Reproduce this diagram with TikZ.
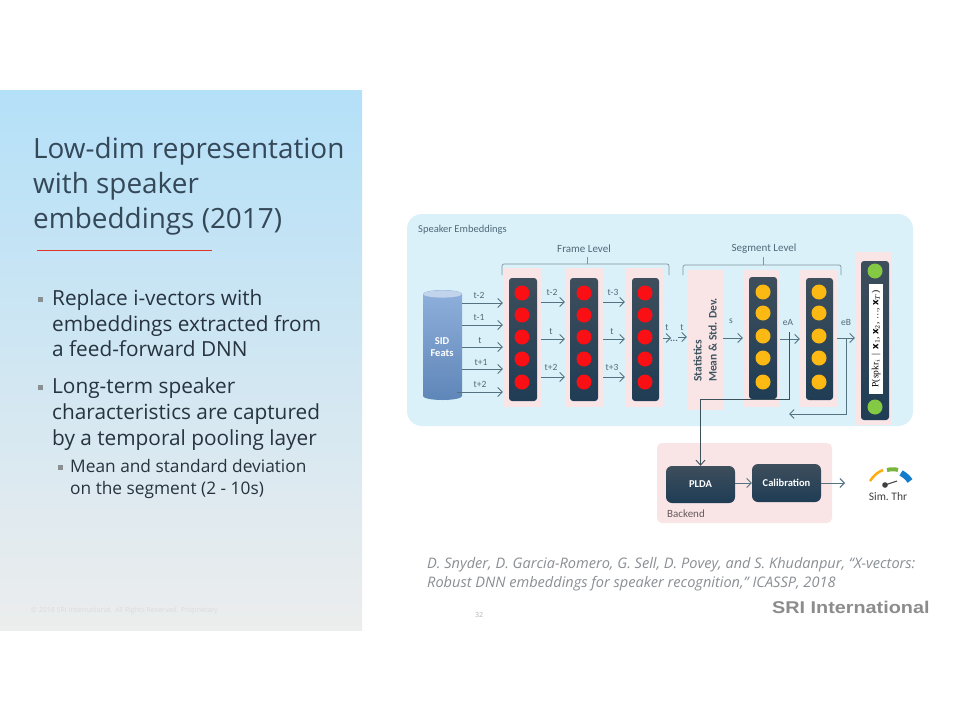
\documentclass[tikz,border=0pt]{standalone}
\usepackage{fontspec}
\usepackage{amsmath}
\setmainfont{Open Sans}
\newfontfamily\labelfont{Carlito}
\newfontfamily\serifp{Liberation Serif}
\newfontfamily\brandfont[FakeStretch=1.165]{Liberation Sans}
\usetikzlibrary{arrows.meta,shapes.geometric}
\definecolor{paneltop}{HTML}{B4E0F8}
\definecolor{panelbot}{HTML}{ECEDED}
\definecolor{titleink}{HTML}{344858}
\definecolor{bodyink}{HTML}{27333F}
\definecolor{redline}{HTML}{E0352B}
\definecolor{skyband}{HTML}{DAF1F9}
\definecolor{pinkband}{HTML}{F9E4E6}
\definecolor{bartop}{HTML}{3E4E5C}
\definecolor{barbot}{HTML}{1F3D55}
\definecolor{link}{HTML}{54727F}
\definecolor{softink}{HTML}{4F6A78}
\definecolor{cyltop}{HTML}{8FB0DC}
\definecolor{cylbot}{HTML}{5F86B8}
\definecolor{dotred}{HTML}{FA0F14}
\definecolor{dotamber}{HTML}{FDB913}
\definecolor{dotgreen}{HTML}{84C944}
\definecolor{citeink}{HTML}{8A8F94}
\tikzset{
  x=1pt,y=-1pt,
  arr/.style={draw=link,line width=0.9pt,-{Straight Barb[length=4.5pt,width=9pt]}},
  plainlink/.style={draw=link,line width=0.9pt},
  bandbox/.style={fill=pinkband,draw=none,inner sep=0pt,rectangle},
  barbox/.style={top color=bartop,bottom color=barbot,draw=none,rounded corners=3pt,inner sep=0pt,rectangle},
  dotnode/.style={circle,inner sep=0pt,minimum size=15pt,draw=none},
  reddot/.style={dotnode,fill=dotred},
  amberdot/.style={dotnode,fill=dotamber},
  greendot/.style={dotnode,fill=dotgreen},
  tinylabel/.style={font=\labelfont\fontsize{9.5}{9.5}\selectfont,text=softink,inner sep=0pt},
  levellabel/.style={font=\labelfont\fontsize{11}{11}\selectfont,text=softink,inner sep=0pt},
  brace/.style={draw=link!75,line width=0.7pt,rounded corners=2pt},
  titletext/.style={anchor=base west,inner sep=0pt,text=titleink,font=\fontsize{27.9}{27.9}\selectfont},
  bodytext/.style={anchor=base west,inner sep=0pt,text=bodyink,font=\fontsize{20.8}{20.8}\selectfont},
  subtext/.style={anchor=base west,inner sep=0pt,text=bodyink,font=\fontsize{17.3}{17.3}\selectfont},
  citetext/.style={anchor=base west,inner sep=0pt,text=citeink,font=\fontsize{14.55}{14.55}\selectfont\itshape},
  bulletmark/.style={fill=#1,draw=none,inner sep=0pt,minimum size=5pt,rectangle},
  whitebold/.style={text=white,font=\labelfont\bfseries\fontsize{10.5}{10.5}\selectfont,align=center}
}
\newcommand{\rnode}[6]{% style,name,x1,y1,x2,y2
  \node[#1,minimum width={(#5-#3)*1pt},minimum height={(#6-#4)*1pt}] (#2) at ({(#3+#5)/2},{(#4+#6)/2}) {};}
\newcommand{\dotcol}[4]{% style,prefix,x,ylist
  \foreach \yy [count=\ii] in {#4} {\node[#1] (#2\ii) at (#3,\yy) {};}}
\begin{document}
\begin{tikzpicture}
\useasboundingbox (0,0) rectangle (960,720);
\fill[white] (0,0) rectangle (960,720);
% left panel
\shade[top color=paneltop,bottom color=panelbot] (0,90) rectangle (362,630);
\node[titletext] (t1) at (33,158) {Low-dim representation};
\node[titletext] (t2) at (33,193) {with speaker};
\node[titletext] (t3) at (33,228) {embeddings (2017)};
\draw[redline,line width=1pt] (37,250) -- (212,250);
\node[bulletmark=citeink] (b1) at (40.5,299) {};
\node[bodytext] (l1) at (52,305) {Replace i-vectors with};
\node[bodytext] (l2) at (52,331) {embeddings extracted from};
\node[bodytext] (l3) at (52,356) {a feed-forward DNN};
\node[bulletmark=citeink] (b2) at (40.5,387) {};
\node[bodytext] (l4) at (52,393) {Long-term speaker};
\node[bodytext] (l5) at (52,419) {characteristics are captured};
\node[bodytext] (l6) at (52,445) {by a temporal pooling layer};
\node[bulletmark=citeink] (b3) at (60,467) {};
\node[subtext] (l7) at (70,472) {Mean and standard deviation};
\node[subtext] (l8) at (70,494) {on the segment (2 - 10s)};
\node[anchor=base west,inner sep=0pt,text=black!14,font=\fontsize{7}{7}\selectfont] (copy) at (31,612) {© 2018 SRI International. All Rights Reserved. Proprietary};
\node[inner sep=0pt,text=black!30,font=\fontsize{7}{7}\selectfont] (pg) at (479,615) {32};
% citation and brand
\node[citetext] (c1) at (427,568) {D. Snyder, D. Garcia-Romero, G. Sell, D. Povey, and S. Khudanpur, “X-vectors:};
\node[citetext] (c2) at (427,587) {Robust DNN embeddings for speaker recognition,” ICASSP, 2018};
\node[anchor=base west,inner sep=0pt,text=black!45,font=\brandfont\bfseries\fontsize{17}{17}\selectfont] (sri) at (772,613) {SRI International};
% main panel
\fill[skyband,rounded corners=15pt] (407,214) rectangle (913,426);
\node[anchor=base west,inner sep=0pt,text=softink,font=\labelfont\fontsize{10.5}{10.5}\selectfont] (se) at (418,232) {Speaker Embeddings};
% bands
\rnode{bandbox}{pa}{503}{268}{541}{407}
\rnode{bandbox}{pb}{565}{268}{603}{407}
\rnode{bandbox}{pc}{625}{268}{663}{407}
\rnode{bandbox}{ps}{687}{270}{723}{410}
\rnode{bandbox}{pd}{743}{270}{780}{407}
\rnode{bandbox}{pe}{800}{270}{837}{407}
\rnode{bandbox}{pf}{855}{252}{892}{425}
% bars
\rnode{barbox}{ba}{509}{278}{537}{401}
\rnode{barbox}{bb}{570}{278}{598}{401}
\rnode{barbox}{bc}{632}{278}{659}{401}
\rnode{barbox}{bd}{749}{277}{777}{399}
\rnode{barbox}{be}{806}{278}{833}{400}
\rnode{barbox}{bf}{861}{261}{889}{420}
\dotcol{reddot}{da}{522}{293,315,337,359,382}
\dotcol{reddot}{db}{584}{293,315,337,359,382}
\dotcol{reddot}{dc}{645}{293,315,337,359,382}
\dotcol{amberdot}{dd}{763}{292,313,336,358,382}
\dotcol{amberdot}{de}{819}{292,313,336,358,382}
\node[greendot] (g1) at (875,271) {};
\node[greendot] (g2) at (875,407) {};
\rnode{fill=white,inner sep=0pt,rectangle}{pw}{869}{284}{883}{394}
\node[rotate=90,inner sep=0pt,font=\serifp\fontsize{9.5}{9.5}\selectfont,text=black] (pt) at (pw) {P(spkr$_i$ \,|\, $\mathbf{x}_1$, $\mathbf{x}_2$, \dots, $\mathbf{x}_T$)};
% cylinder
\rnode{inner sep=0pt,rectangle}{cyl}{423}{290}{462}{400}
\shade[top color=cyltop,bottom color=cylbot] (423,294) -- (423,396) arc[start angle=180,end angle=360,x radius=19.5,y radius=-4] -- (462,294) arc[start angle=0,end angle=180,x radius=19.5,y radius=-4] -- cycle;
\fill[cyltop!55!white] (442.5,294) ellipse[x radius=19.5,y radius=3.6];
\node[whitebold] (sid) at (442,347) {SID\\[1pt]Feats};
% statistics
\node[rotate=90,inner sep=0pt,align=left,text=softink!80!black,font=\labelfont\bfseries\fontsize{11.5}{15}\selectfont] (st) at (ps) {Statistics\\Mean \& Std. Dev.};
% braces
\coordinate (fl) at (502,275); \coordinate (fr) at (669,275);
\coordinate (sl) at (683,275); \coordinate (sr) at (841,275);
\draw[brace] (fl) -- (502,264) -- (669,264) -- (fr);
\draw[brace] (587,264) -- (587,257);
\draw[brace] (sl) -- (683,265) -- (841,265) -- (sr);
\draw[brace] (763,265) -- (763,257);
\node[levellabel] (fll) at (584,249) {Frame Level};
\node[levellabel] (sll) at (764,249) {Segment Level};
% input arrows
\draw[arr] (cyl.east |- 0,303) -- (pa.west |- 0,303);
\draw[arr] (cyl.east |- 0,325) -- (pa.west |- 0,325);
\draw[arr] (cyl.east |- 0,347) -- (pa.west |- 0,347);
\draw[arr] (cyl.east |- 0,369) -- (pa.west |- 0,369);
\draw[arr] ([xshift=-5pt]cyl.east |- 0,392) -- (pa.west |- 0,392);
\foreach \tx/\xx/\yy [count=\n] in {t-2/479/295,t-1/479/317,t/480/341,t+1/481/362,t+2/480/384}
  {\node[tinylabel] (ia\n) at (\xx,\yy) {\tx};}
\foreach \yy in {302,339,377}{\draw[arr] (pa.east |- 0,\yy) -- (pb.west |- 0,\yy);\draw[arr] (pb.east |- 0,\yy) -- (pc.west |- 0,\yy);}
\foreach \tx/\xx/\yy [count=\n] in {t-2/552/292,t/551/332,t+2/551/367,t-3/613/292,t/612/332,t+3/612/367}
  {\node[tinylabel] (ib\n) at (\xx,\yy) {\tx};}
\draw[arr] (pc.east |- 0,338) -- ++(8,0) coordinate (dotsa);
\node[tinylabel] (dots) at (674,341) {\textbf{...}};
\coordinate (dotsb) at (678,337);
\draw[arr] (dotsb) -- (ps.west |- dotsb);
\node[tinylabel] (tta) at (667,328) {t};
\node[tinylabel] (ttb) at (682,328) {t};
\draw[arr] (ps.east |- 0,338) -- (pd.west |- 0,338);
\node[tinylabel] (ls) at (731,321) {s};
\draw[arr] (pd.east |- 0,339) -- (pe.west |- 0,339);
\node[tinylabel] (lea) at (788,322) {eA};
\draw[arr] (pe.east |- 0,338) -- (pf.west |- 0,338);
\node[tinylabel] (leb) at (846,322) {eB};
\coordinate (eaj) at (789,332);
% backend
\rnode{bandbox,rounded corners=5pt}{pk}{657}{443}{832}{523}
\node[barbox,rounded corners=6pt,minimum width=69pt,minimum height=37pt,whitebold] (plda) at (700.5,484.5) {PLDA};
\node[barbox,rounded corners=6pt,minimum width=69pt,minimum height=38pt,whitebold] (cal) at (786.5,483) {Calibration};
\node[anchor=base west,inner sep=0pt,text=black!60!pinkband,font=\labelfont\fontsize{11}{11}\selectfont] (bk) at (667,517) {Backend};
\draw[plainlink,-{Straight Barb[length=5pt,width=9pt]},draw=link!70!black] (eaj) -- (789,399) -- (700.5,399) -- (plda.north);
\draw[arr] (846,338) -- (846,414) -- (789,414);
\draw[arr] (plda.east |- cal.east) -- (cal.west);
\coordinate (gaugein) at (845,483);
\draw[arr] (cal.east) -- (gaugein);
% gauge
\draw[dotamber!80!orange,line width=2.5pt] (870,481) .. controls (874,475) and (878,472) .. (883,470);
\draw[dotgreen!90!black,line width=4pt] (887,470) .. controls (891,469) and (895,469) .. (898,470);
\draw[cyan!60!blue,line width=6pt] (901,473) .. controls (905,475) and (908,478) .. (910,481);
\fill[black!75] (885,485) circle (2.8);
\draw[black!75,line width=1pt] (885,485) -- (897,481);
\node[inner sep=0pt,text=black!75,font=\labelfont\fontsize{11.5}{11.5}\selectfont] (sim) at (888,497) {Sim.~Thr};
\end{tikzpicture}
\end{document}
